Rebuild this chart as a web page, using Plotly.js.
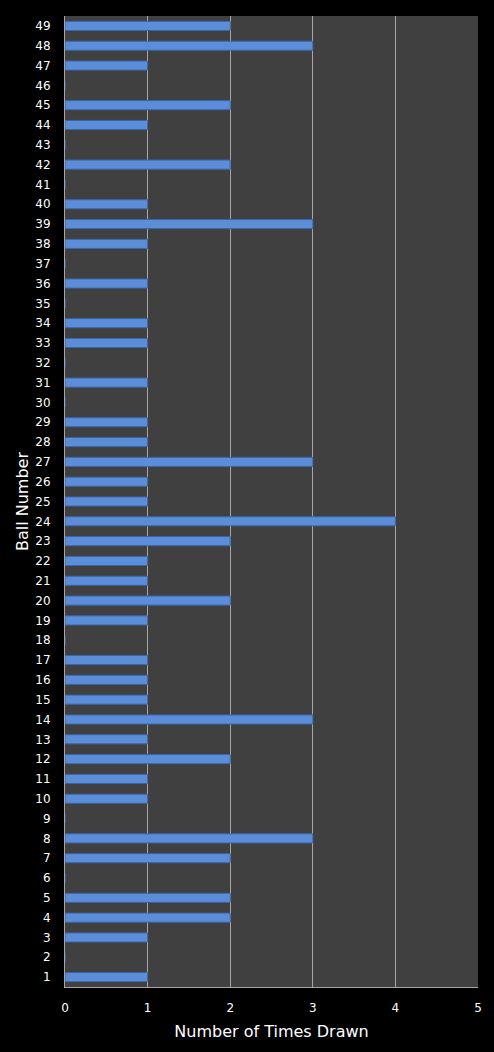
<!DOCTYPE html>
<html>
<head>
<meta charset="utf-8">
<script src="https://cdn.plot.ly/plotly-3.0.1.min.js"></script>
<style>
  html, body { margin: 0; padding: 0; background: #000; }
  #chart { width: 494px; height: 1052px; }
</style>
</head>
<body>
<div id="chart"></div>
<script>
// ball numbers 1..49 and how often each was drawn
var balls = [];
for (var i = 1; i <= 49; i++) balls.push(String(i));

var timesDrawn = [
  1, 0, 1, 2, 2, 0, 2, 3, 0, 1,
  1, 2, 1, 3, 1, 1, 1, 0, 1, 2,
  1, 1, 2, 4, 1, 1, 3, 1, 1, 0,
  1, 0, 1, 1, 0, 1, 0, 1, 3, 1,
  0, 2, 0, 1, 2, 0, 1, 3, 2
];

var xTicks = [0, 1, 2, 3, 4, 5];

var data = [{
  type: 'bar',
  orientation: 'h',
  y: balls,
  x: timesDrawn,
  width: 0.46,
  marker: {
    color: '#5b8dd8',
    line: {color: '#3a65a8', width: 1}
  },
  hoverinfo: 'x+y'
}];

var layout = {
  width: 494,
  height: 1052,
  paper_bgcolor: '#000000',
  plot_bgcolor: '#404040',
  margin: {l: 65, r: 16, t: 16, b: 65},
  font: {family: 'DejaVu Sans, Verdana, sans-serif', color: '#ffffff', size: 12},
  showlegend: false,
  bargap: 0.54,
  xaxis: {
    range: [0, 5],
    tickvals: xTicks,
    ticktext: xTicks.map(String),
    showgrid: true,
    gridcolor: '#a6a6a6',
    gridwidth: 1,
    zeroline: false,
    showline: true,
    linecolor: '#a6a6a6',
    ticks: '',
    ticklabelstandoff: 10,
    tickfont: {size: 12, color: '#ffffff'},
    title: {text: 'Number of Times Drawn', font: {size: 16, color: '#ffffff'}, standoff: 11}
  },
  yaxis: {
    type: 'category',
    categoryorder: 'array',
    categoryarray: balls,
    showgrid: false,
    zeroline: false,
    showline: true,
    linecolor: '#a6a6a6',
    ticks: '',
    ticklabelstandoff: 11,
    tickfont: {size: 12, color: '#ffffff'},
    title: {text: 'Ball Number', font: {size: 16, color: '#ffffff'}, standoff: 2}
  }
};

Plotly.newPlot('chart', data, layout, {displayModeBar: false, staticPlot: true});
</script>
</body>
</html>
